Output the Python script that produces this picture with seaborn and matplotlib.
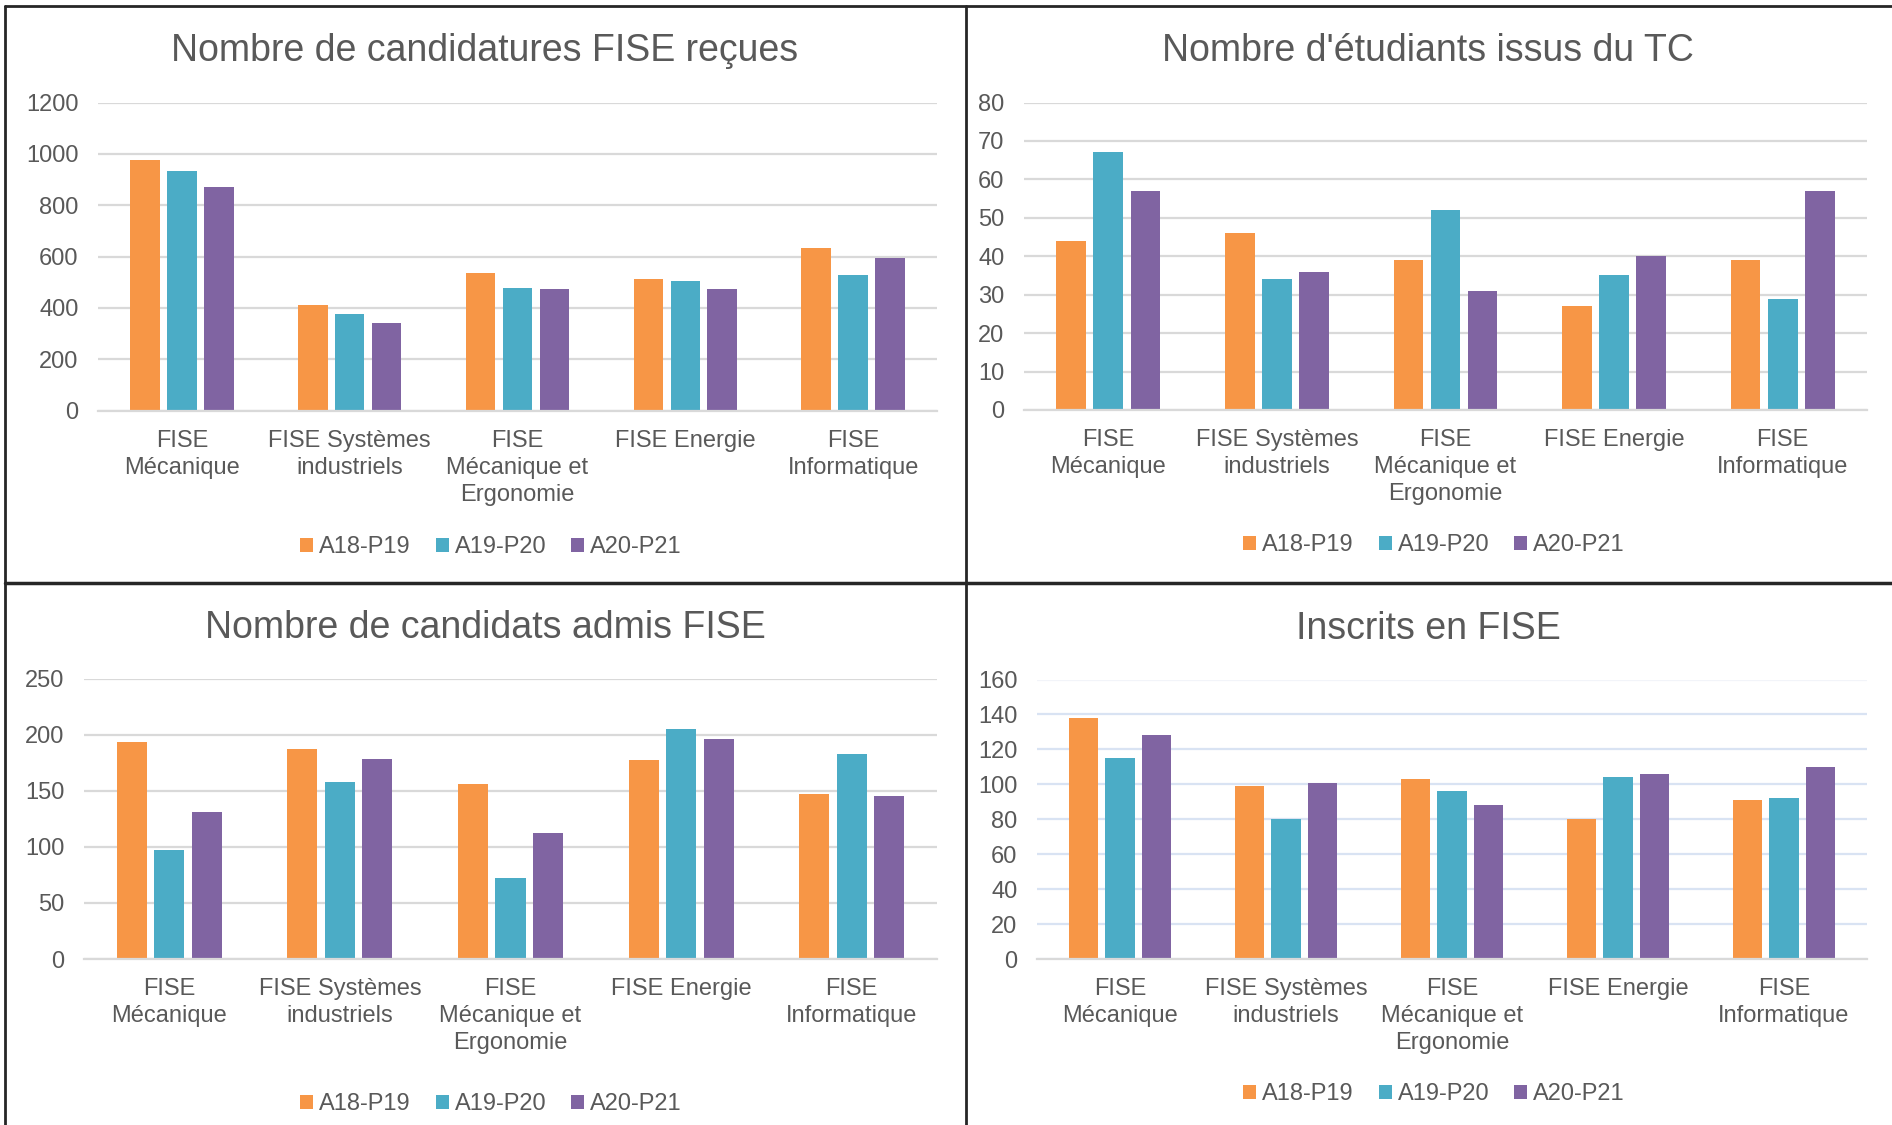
import pandas as pd
import matplotlib.pyplot as plt
import seaborn as sns
from matplotlib.lines import Line2D

# ===============================
# Données
# ===============================

filieres = ["FISE\nMécanique", "FISE Systèmes\nindustriels",
            "FISE\nMécanique et\nErgonomie", "FISE Energie", "FISE\nInformatique"]
annees = ["A18-P19", "A19-P20", "A20-P21"]

# Nombre de candidatures FISE reçues
cand_a18 = [975, 410, 535, 512, 633]
cand_a19 = [932, 376, 477, 503, 528]
cand_a20 = [869, 341, 473, 474, 594]

# Nombre d'étudiants issus du TC
tc_a18 = [44, 46, 39, 27, 39]
tc_a19 = [67, 34, 52, 35, 29]
tc_a20 = [57, 36, 31, 40, 57]

# Nombre de candidats admis FISE
admis_a18 = [193, 187, 156, 177, 147]
admis_a19 = [97, 158, 72, 205, 183]
admis_a20 = [131, 178, 112, 196, 145]

# Inscrits en FISE
inscrits_a18 = [138, 99, 103, 80, 91]
inscrits_a19 = [115, 80, 96, 104, 92]
inscrits_a20 = [128, 101, 88, 106, 110]

couleurs = ["#F79646", "#4BACC6", "#8064A2"]
gris = "#595959"

# ===============================
# Configuration
# ===============================

sns.set_theme(style="white")
plt.rcParams["font.family"] = ["Liberation Sans", "DejaVu Sans"]

W, H = 1892, 1125
fig = plt.figure(figsize=(W / 100, H / 100), dpi=100)


def tableau(a18, a19, a20):
    lignes = []
    for serie, vals in zip(annees, [a18, a19, a20]):
        for f, v in zip(filieres, vals):
            lignes.append({"filiere": f, "annee": serie, "valeur": v})
    return pd.DataFrame(lignes)


def px(left, right, top, bottom):
    return [left / W, 1 - bottom / H, (right - left) / W, (bottom - top) / H]


graphes = [
    # titre, données, ymax, pas, rect axes (px), centre x, baseline titre, y légende, couleur grille
    ("Nombre de candidatures FISE reçues", tableau(cand_a18, cand_a19, cand_a20),
     1200, 200, (98, 937, 102.5, 410.6), 485, 61, 547, "#D9D9D9"),
    ("Nombre d'étudiants issus du TC", tableau(tc_a18, tc_a19, tc_a20),
     80, 10, (1024, 1867, 102.5, 410), 1428, 61, 545, "#D9D9D9"),
    ("Nombre de candidats admis FISE", tableau(admis_a18, admis_a19, admis_a20),
     250, 50, (84, 937, 678.5, 959), 485, 638, 1104, "#D9D9D9"),
    ("Inscrits en FISE", tableau(inscrits_a18, inscrits_a19, inscrits_a20),
     160, 20, (1037, 1867, 679.5, 959), 1428, 639, 1094, "#D9E3F3"),
]

for titre, df, ymax, pas, rect, cx, ty, ly, cgrille in graphes:
    ax = fig.add_axes(px(*rect))

    sns.barplot(data=df, x="filiere", y="valeur", hue="annee",
                palette=couleurs, saturation=1, width=0.66, gap=0.2,
                linewidth=0, ax=ax)

    ax.set_ylim(0, ymax)
    ax.set_yticks(range(0, ymax + 1, pas))
    ax.set_xticks(range(len(filieres)), labels=filieres, linespacing=1.28)
    ax.set_xlim(-0.5, 4.5)
    ax.set_xlabel("")
    ax.set_ylabel("")

    ax.set_axisbelow(True)
    ax.yaxis.grid(True, color=cgrille, linewidth=1.6)
    if ymax == 160:
        ax.get_ygridlines()[-1].set_color("#F2F4F9")
    for s in ["top", "right", "left"]:
        ax.spines[s].set_visible(False)
    ax.spines["bottom"].set_color("#D9D9D9")
    ax.spines["bottom"].set_linewidth(1.6)

    ax.tick_params(axis="y", length=0, pad=14, labelsize=17, labelcolor=gris)
    ax.tick_params(axis="x", length=0, pad=14, labelsize=17, labelcolor=gris)

    sns.move_legend(ax, "center", bbox_to_anchor=((cx + 6) / W, 1 - ly / H),
                    bbox_transform=fig.transFigure, ncol=3, frameon=False,
                    title=None, fontsize=17, labelcolor=gris,
                    handlelength=0.55, handleheight=0.55,
                    handletextpad=0.25, columnspacing=1.05)

    fig.text(cx / W, 1 - ty / H, titre, ha="center", va="baseline",
             fontsize=27, color=gris)

# Cadres des graphiques
bord = "#262626"
fig.add_artist(Line2D([5 / W, 1], [1 - 6 / H, 1 - 6 / H], color=bord, lw=2))
fig.add_artist(Line2D([5 / W, 5 / W], [0, 1 - 6 / H], color=bord, lw=2))
fig.add_artist(Line2D([965.5 / W, 965.5 / W], [0, 1 - 6 / H], color=bord, lw=2))
fig.add_artist(Line2D([5 / W, 1], [1 - 582.5 / H, 1 - 582.5 / H], color=bord, lw=2.5))

plt.savefig("out.png", dpi=100, facecolor="white")
